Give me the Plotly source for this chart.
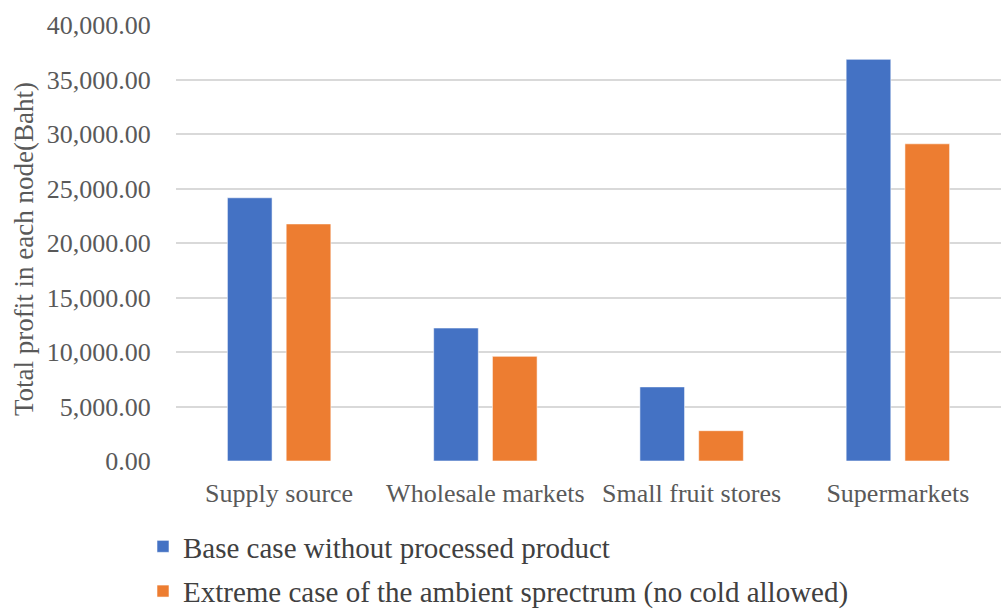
import plotly.graph_objects as go

# Profit per node of the supply chain (Baht)
categories = ["Supply source", "Wholesale markets", "Small fruit stores", "Supermarkets"]
base_case = [24150, 12200, 6800, 36850]
extreme_case = [21750, 9600, 2780, 29100]
series_names = [
    "Base case without processed product",
    "Extreme case of the ambient sprectrum (no cold allowed)",
]
y_ticks = [0, 5000, 10000, 15000, 20000, 25000, 30000, 35000, 40000]
y_tick_labels = [f"{v:,.2f}" for v in y_ticks]
y_title = "Total profit in each node(Baht)"

BLUE = "#4472C4"
ORANGE = "#ED7D31"
TEXT = "#595959"
FONT = "Times New Roman, Liberation Serif, serif"

W, H = 1001, 610
L, R, T, B = 176, 0, 25, 149

fig = go.Figure()
fig.add_trace(go.Bar(
    x=categories, y=base_case, name=series_names[0],
    marker=dict(color=BLUE, line=dict(color="rgba(255,255,255,0.55)", width=1)),
    legendgroup="a",
))
fig.add_trace(go.Bar(
    x=categories, y=extreme_case, name=series_names[1],
    marker=dict(color=ORANGE, line=dict(color="rgba(255,255,255,0.55)", width=1)),
    legendgroup="b",
))

fig.update_layout(
    width=W, height=H,
    margin=dict(l=L, r=R, t=T, b=B, autoexpand=False),
    paper_bgcolor="white", plot_bgcolor="white",
    barmode="group", bargap=0.43, bargroupgap=0.24,
    font=dict(family=FONT, color=TEXT),
    showlegend=True,
    legend=dict(
        xref="container", x=143 / W, xanchor="left",
        yref="container", y=1 - 521 / H, yanchor="top",
        orientation="v",
        font=dict(family=FONT, size=29, color="#404040"),
        tracegroupgap=4,
        bgcolor="rgba(0,0,0,0)",
    ),
)

# rotated value-axis title, set left of the tick labels
fig.add_annotation(
    text=y_title, textangle=-90, showarrow=False,
    xref="paper", x=(24 - L) / (W - L - R), xanchor="center",
    yref="paper", y=(H - B - 249) / (H - T - B), yanchor="middle",
    font=dict(family=FONT, size=27, color=TEXT),
)

# invisible outside ticks keep the labels clear of the plot edge
fig.update_yaxes(
    range=[0, 40000],
    tickvals=y_ticks, ticktext=y_tick_labels,
    tickfont=dict(family=FONT, size=26, color=TEXT),
    ticks="outside", ticklen=19, tickcolor="rgba(0,0,0,0)",
    showgrid=True, gridcolor="#d9d9d9", gridwidth=2,
    zeroline=False, showline=False,
)
fig.update_xaxes(
    tickfont=dict(family=FONT, size=26, color=TEXT),
    ticks="outside", ticklen=9, tickcolor="rgba(0,0,0,0)",
    showline=False, showgrid=False,
)

fig.write_html("out.html")
